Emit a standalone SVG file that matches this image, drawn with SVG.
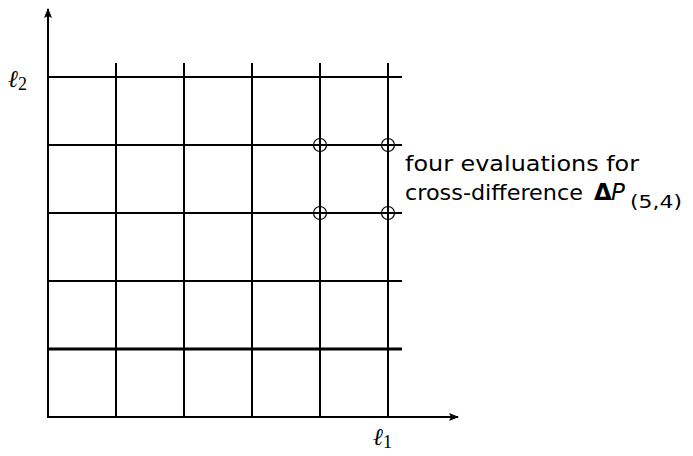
<svg xmlns="http://www.w3.org/2000/svg" width="693" height="456" viewBox="0 0 693 456">
<style>
.g{stroke:#000;stroke-width:2;fill:none}
.gt{stroke:#000;stroke-width:3;fill:none}
.c{stroke:#000;stroke-width:1.2;fill:none}
.lab{font-family:"DejaVu Sans","Liberation Sans",sans-serif;font-size:21px;fill:#000}
.ell{font-family:"DejaVu Serif","Liberation Serif",serif;font-size:24px;font-style:italic;fill:#000}
.sub{font-family:"Liberation Serif","DejaVu Serif",serif;font-size:18px;fill:#000}
</style>
<defs>
<marker id="ah" viewBox="0 0 10 10" refX="9" refY="5" markerWidth="10" markerHeight="10" markerUnits="userSpaceOnUse" orient="auto">
<path d="M0,1 L10,5 L0,9 L2,5 Z" fill="#000"/>
</marker>
</defs>
<g id="connectors">
<line class="g" x1="48" y1="417" x2="48" y2="9" marker-end="url(#ah)"/>
<line class="g" x1="47" y1="417" x2="458" y2="417" marker-end="url(#ah)"/>
<line class="g" x1="48" y1="77" x2="402" y2="77"/>
<line class="g" x1="48" y1="145" x2="402" y2="145"/>
<line class="g" x1="48" y1="213" x2="402" y2="213"/>
<line class="g" x1="48" y1="281" x2="402" y2="281"/>
<line class="gt" x1="48" y1="349" x2="402" y2="349"/>
<line class="g" x1="116" y1="63" x2="116" y2="417"/>
<line class="g" x1="184" y1="63" x2="184" y2="417"/>
<line class="g" x1="252" y1="63" x2="252" y2="417"/>
<line class="g" x1="320" y1="63" x2="320" y2="417"/>
<line class="g" x1="388" y1="63" x2="388" y2="417"/>
</g>
<g id="points">
<circle class="c" cx="320" cy="145" r="6.5"/>
<circle class="c" cx="388" cy="145" r="6.5"/>
<circle class="c" cx="320" cy="213" r="6.5"/>
<circle class="c" cx="388" cy="213" r="6.5"/>
</g>
<g id="axis-labels">
<text x="8" y="87"><tspan class="ell">ℓ</tspan><tspan class="sub" dy="3">2</tspan></text>
<text x="373" y="445"><tspan class="ell">ℓ</tspan><tspan class="sub" dy="3">1</tspan></text>
</g>
<g id="annotation">
<text class="lab" x="405" y="171" textLength="234" lengthAdjust="spacingAndGlyphs">four evaluations for</text>
<text class="lab" x="405" y="200"><tspan textLength="178" lengthAdjust="spacingAndGlyphs">cross-difference</tspan><tspan x="594" font-weight="bold" font-size="23">Δ</tspan><tspan x="611" font-style="italic" font-size="23">P</tspan><tspan x="630" dy="8" font-size="17" textLength="52" lengthAdjust="spacingAndGlyphs">(5,4)</tspan></text>
</g>
</svg>
